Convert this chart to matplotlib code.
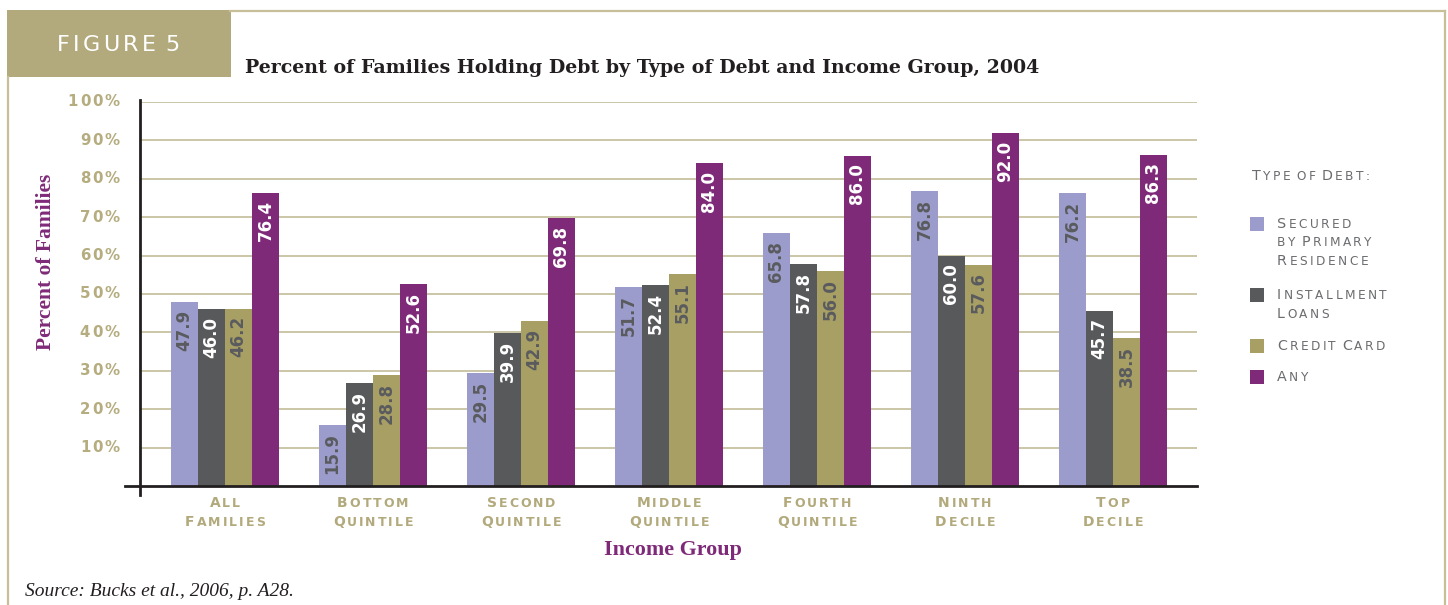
import matplotlib
matplotlib.use("Agg")
import matplotlib.pyplot as plt
from matplotlib.patches import Rectangle
from matplotlib.lines import Line2D
from matplotlib.offsetbox import TextArea, HPacker, AnnotationBbox
import numpy as np

W, H = 1448, 605

groups = [["All", "Families"], ["Bottom", "Quintile"], ["Second", "Quintile"],
          ["Middle", "Quintile"], ["Fourth", "Quintile"], ["Ninth", "Decile"],
          ["Top", "Decile"]]
series = [["Secured", "by Primary", "Residence"], ["Installment", "Loans"],
          ["Credit Card"], ["Any"]]
secured = [47.9, 15.9, 29.5, 51.7, 65.8, 76.8, 76.2]
installment = [46.0, 26.9, 39.9, 52.4, 57.8, 60.0, 45.7]
credit_card = [46.2, 28.8, 42.9, 55.1, 56.0, 57.6, 38.5]
any_debt = [76.4, 52.6, 69.8, 84.0, 86.0, 92.0, 86.3]
yticks = list(range(10, 101, 10))

BAR_COLORS = ["#9b9ccb", "#58595b", "#a89f64", "#7e2a78"]
LABEL_COLORS = ["#5a5b5e", "white", "#5a5b5e", "white"]
KHAKI = "#b2aa7c"
GRID = "#bdb68f"
FRAME = "#c6bf98"
PURPLE = "#7e2a78"
INK = "#231f20"
LEGEND_INK = "#6b6c6f"
PX = 100 / 72  # pixels per point at dpi 100


def fx(x):
    return x / W


def fy(y):
    return 1 - y / H


def spaced(parent, xy, s, big, small, color, weight, xycoords, align, track, word_gap,
           caps=True):
    """letter-spaced text; with caps=True initials stay at `big`, the rest is
    upper-cased at `small` (fake small caps)"""
    words = []
    for word in s.split(" "):
        chars = []
        for i, ch in enumerate(word):
            size = big if (not caps or (i == 0 and ch.isupper())) else small
            chars.append(TextArea(ch.upper(), textprops=dict(fontsize=size, color=color,
                                                             fontweight=weight)))
        words.append(HPacker(children=chars, align="baseline", pad=0, sep=track / PX))
    box = HPacker(children=words, align="baseline", pad=0, sep=word_gap / PX)
    ab = AnnotationBbox(box, xy, xycoords=xycoords, box_alignment=align,
                        frameon=False, pad=0, annotation_clip=False)
    parent.add_artist(ab)


fig = plt.figure(figsize=(W / 100, H / 100), dpi=100)

# frame + header block
fig.add_artist(Rectangle((fx(7), fy(77)), fx(224), 67 / H, transform=fig.transFigure,
                         color=KHAKI, lw=0))
for xs, ys in [([8, 8], [77, 605]), ([230, 1445], [11, 11]), ([1445, 1445], [11, 605])]:
    fig.add_artist(Line2D([fx(v) for v in xs], [fy(v) for v in ys],
                          transform=fig.transFigure, color=FRAME, lw=1.6))
spaced(fig, (fx(118), fy(45)), "FIGURE 5", 16, 16, "white", "normal", "figure fraction",
       (0.5, 0.5), 3.5, 9, caps=False)
fig.text(fx(245), fy(68), "Percent of Families Holding Debt by Type of Debt and Income Group, 2004",
         family="DejaVu Serif", fontweight="bold", fontsize=13.7, color=INK, va="center")

ax = fig.add_axes([fx(140), 119 / H, 1057 / W, 384 / H])
x = np.arange(len(groups))
bw = 27 / 148
for k, vals in enumerate([secured, installment, credit_card, any_debt]):
    pos = x + (k - 1.5) * bw
    ax.bar(pos, vals, bw, color=BAR_COLORS[k], zorder=3)
    for p, v in zip(pos, vals):
        ax.text(p, v - 2.0, f"{v:.1f}", rotation=90, ha="center", va="top",
                color=LABEL_COLORS[k], fontsize=12, fontweight="bold", zorder=4)

for t in yticks:
    ax.axhline(t, color=GRID, lw=1.1, zorder=1)
ax.set_xlim(-0.574, 6.568)
ax.set_ylim(0, 100)
for sp in ax.spines.values():
    sp.set_visible(False)
ax.set_xticks([])
ax.set_yticks(yticks, [""] * len(yticks))
ax.tick_params(axis="y", length=0)
# y tick labels, letter-spaced like the original
for t in yticks:
    spaced(ax, (-20 / 1057, t), f"{t}%", 10.8, 10.8, "#b5ad80", "bold",
           ax.get_yaxis_transform(), (1, 0.5), 2, 0, caps=False)

# axis lines (they overshoot the plot a bit like the original)
fig.add_artist(Line2D([fx(140), fx(140)], [fy(100), fy(495)], transform=fig.transFigure,
                      color=INK, lw=2))
fig.add_artist(Line2D([fx(125), fx(1197)], [fy(486), fy(486)], transform=fig.transFigure,
                      color=INK, lw=2))

# category labels
for i, (l1, l2) in enumerate(groups):
    spaced(ax, (x[i], -17 / 384), l1, 10, 9, KHAKI, "bold", ax.get_xaxis_transform(),
           (0.5, 0.5), 2, 6)
    spaced(ax, (x[i], -36 / 384), l2, 10, 9, KHAKI, "bold", ax.get_xaxis_transform(),
           (0.5, 0.5), 2, 6)

fig.text(fx(46), fy(262), "Percent of Families", rotation=90, ha="center", va="center",
         family="Liberation Serif", fontweight="bold", fontsize=15.5, color=PURPLE)
fig.text(fx(673), fy(550), "Income Group", ha="center", va="center",
         family="Liberation Serif", fontweight="bold", fontsize=15.8, color=PURPLE)
fig.text(fx(25), fy(591), "Source: Bucks et al., 2006, p. A28.", ha="left", va="center",
         family="Liberation Serif", style="italic", fontsize=14, color=INK)

# legend
spaced(fig, (fx(1252), fy(176)), "Type of Debt:", 10.3, 8.7, LEGEND_INK, "normal",
       "figure fraction", (0, 0.5), 2.5, 6)
sq_tops = [217, 288, 339, 370]
for k, lines in enumerate(series):
    fig.add_artist(Rectangle((fx(1250), fy(sq_tops[k] + 14)), fx(14), 14 / H,
                             transform=fig.transFigure, color=BAR_COLORS[k], lw=0))
    for j, line in enumerate(lines):
        spaced(fig, (fx(1277), fy(sq_tops[k] + 7 + 18.5 * j)), line, 10.3, 8.7, LEGEND_INK,
               "normal", "figure fraction", (0, 0.5), 2.5, 6)

fig.savefig("out.png", dpi=100)
